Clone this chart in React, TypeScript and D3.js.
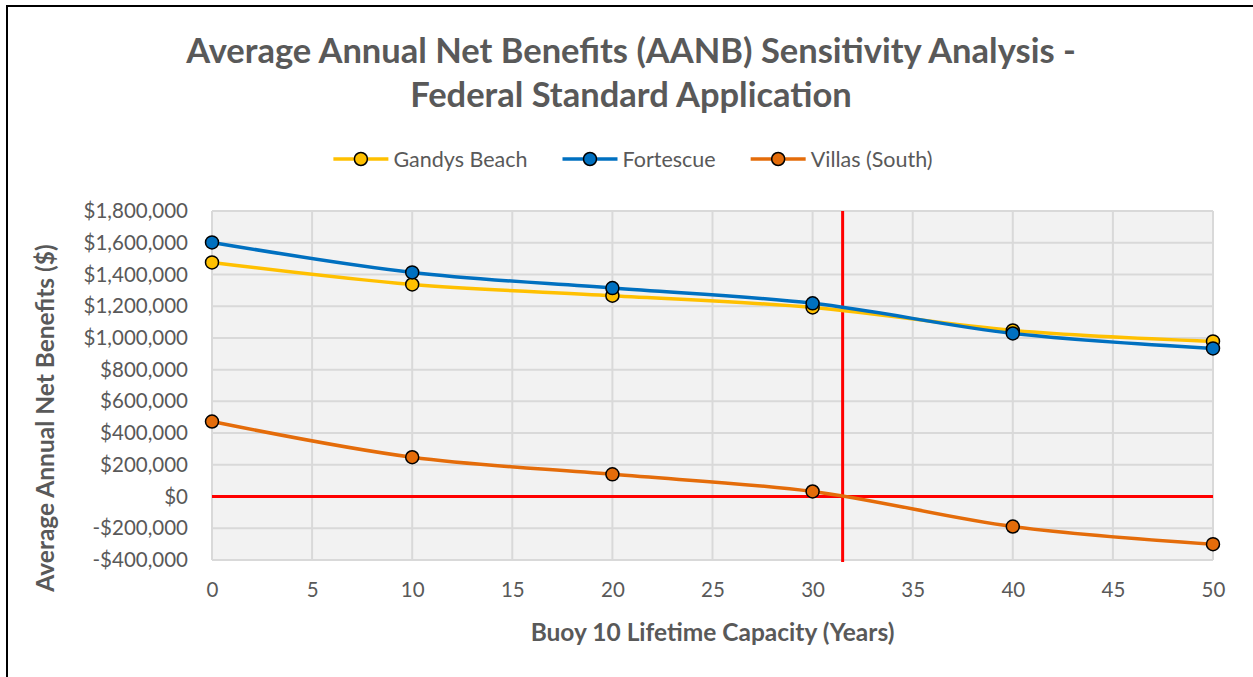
import React, { useRef, useEffect } from 'react'
import * as d3 from 'd3'

// years on the x axis
const years = [0, 10, 20, 30, 40, 50]
const gandysBeach = [1476000, 1337000, 1266000, 1192000, 1047000, 978000]
const fortescue = [1602000, 1413000, 1314000, 1218000, 1028000, 934000]
const villasSouth = [473000, 248000, 140000, 32000, -189000, -300000]
const seriesNames = ['Gandys Beach', 'Fortescue', 'Villas (South)']
const seriesColors = ['#FFC000', '#0070C0', '#E46C0A']
const yTicks = [-400000, -200000, 0, 200000, 400000, 600000, 800000, 1000000, 1200000, 1400000, 1600000, 1800000]
const xTicks = [0, 5, 10, 15, 20, 25, 30, 35, 40, 45, 50]
const breakEvenYear = 31.5

export default function App() {
    const svgRef = useRef<SVGSVGElement>(null)

    useEffect(() => {
        const w = 1253
        const h = 677
        const font = 'Lato, "Open Sans", sans-serif'
        const grey = '#595959'
        const svg = d3.select(svgRef.current)
        svg.selectAll('*').remove()

        // outer frame
        svg.append('rect')
            .attr('x', 7).attr('y', 6)
            .attr('width', w + 20).attr('height', h + 20)
            .attr('fill', '#fff')
            .attr('stroke', '#000')
            .attr('stroke-width', 2)

        const left = 212, right = 1213, top = 211, bottom = 560

        const xScale = d3.scaleLinear().domain([0, 50]).range([left, right])
        const yScale = d3.scaleLinear().domain([-400000, 1800000]).range([bottom, top])

        // plot background
        svg.append('rect')
            .attr('x', left).attr('y', top)
            .attr('width', right - left).attr('height', bottom - top)
            .attr('fill', '#f2f2f2')

        // grid
        svg.append('g').selectAll('line')
            .data(yTicks)
            .join('line')
                .attr('x1', left).attr('x2', right)
                .attr('y1', d => yScale(d)).attr('y2', d => yScale(d))
                .attr('stroke', '#d9d9d9').attr('stroke-width', 2)
        svg.append('g').selectAll('line')
            .data(xTicks)
            .join('line')
                .attr('x1', d => xScale(d)).attr('x2', d => xScale(d))
                .attr('y1', top).attr('y2', bottom)
                .attr('stroke', '#d9d9d9').attr('stroke-width', 2)

        // axes labels
        const fmt = (v: number) => (v < 0 ? '-$' : '$') + d3.format(',')(Math.abs(v))
        const yAxis = d3.axisLeft(yScale).tickValues(yTicks).tickFormat(d => fmt(+d)).tickSize(0).tickPadding(24)
        const gy = svg.append('g').attr('transform', `translate(${left},0)`).call(yAxis)
        gy.select('.domain').remove()
        gy.selectAll('text').attr('font-family', font).attr('font-size', 20.5).attr('fill', grey)

        const xAxis = d3.axisBottom(xScale).tickValues(xTicks).tickSize(0).tickPadding(22)
        const gx = svg.append('g').attr('transform', `translate(0,${bottom})`).call(xAxis)
        gx.select('.domain').remove()
        gx.selectAll('text').attr('font-family', font).attr('font-size', 20.5).attr('fill', grey)

        // red reference lines
        svg.append('line')
            .attr('x1', left).attr('x2', right)
            .attr('y1', yScale(0)).attr('y2', yScale(0))
            .attr('stroke', '#ff0000').attr('stroke-width', 3)
        svg.append('line')
            .attr('x1', xScale(breakEvenYear)).attr('x2', xScale(breakEvenYear))
            .attr('y1', top).attr('y2', bottom + 2)
            .attr('stroke', '#ff0000').attr('stroke-width', 3)

        // series
        const allSeries = [gandysBeach, fortescue, villasSouth]
        const line = d3.line<number>()
            .x((d, i) => xScale(years[i]))
            .y(d => yScale(d))
            .curve(d3.curveCardinal.tension(0))

        allSeries.forEach((vals, s) => {
            svg.append('path')
                .attr('d', line(vals))
                .attr('fill', 'none')
                .attr('stroke', seriesColors[s])
                .attr('stroke-width', 3.5)
        })
        allSeries.forEach((vals, s) => {
            svg.append('g').selectAll('circle')
                .data(vals)
                .join('circle')
                    .attr('cx', (d, i) => xScale(years[i]))
                    .attr('cy', d => yScale(d))
                    .attr('r', 6.5)
                    .attr('fill', seriesColors[s])
                    .attr('stroke', '#000')
                    .attr('stroke-width', 1.5)
        })

        // title
        const title = svg.append('text')
            .attr('text-anchor', 'middle')
            .attr('font-family', font).attr('font-weight', 'bold')
            .attr('font-size', 34.5).attr('fill', grey)
        title.append('tspan').attr('x', 631).attr('y', 63).text('Average Annual Net Benefits (AANB) Sensitivity Analysis -')
        title.append('tspan').attr('x', 631).attr('y', 107).text('Federal Standard Application')

        // legend: symbol 55px, 5px to text, 35px between items, centred
        const legend = svg.append('g')
        let cursor = 0
        seriesNames.forEach((name, s) => {
            const g = legend.append('g').attr('transform', `translate(${cursor},0)`)
            g.append('line').attr('x1', 0).attr('x2', 55).attr('y1', 0).attr('y2', 0)
                .attr('stroke', seriesColors[s]).attr('stroke-width', 3.5)
            g.append('circle').attr('cx', 27.5).attr('cy', 0).attr('r', 6.5)
                .attr('fill', seriesColors[s]).attr('stroke', '#000').attr('stroke-width', 1.5)
            const t = g.append('text').attr('x', 60).attr('y', 7.5)
                .attr('font-family', font).attr('font-size', 21.5).attr('fill', grey)
                .text(name)
            const tw = (t.node() as SVGTextElement).getComputedTextLength()
            cursor += 60 + tw + 35
        })
        const legendW = cursor - 35
        legend.attr('transform', `translate(${633 - legendW / 2},159)`)

        // axis titles
        svg.append('text')
            .attr('x', (left + right) / 2).attr('y', 641)
            .attr('text-anchor', 'middle')
            .attr('font-family', font).attr('font-weight', 'bold')
            .attr('font-size', 24.5).attr('fill', grey)
            .text('Buoy 10 Lifetime Capacity (Years)')
        svg.append('text')
            .attr('transform', `translate(54,418) rotate(-90)`)
            .attr('text-anchor', 'middle')
            .attr('font-family', font).attr('font-weight', 'bold')
            .attr('font-size', 24.5).attr('fill', grey)
            .text('Average Annual Net Benefits ($)')
    }, [])

    return (
        <svg ref={svgRef} width={1253} height={677}
            style={{ position: 'absolute', left: 0, top: 0, background: '#fff' }} />
    )
}
